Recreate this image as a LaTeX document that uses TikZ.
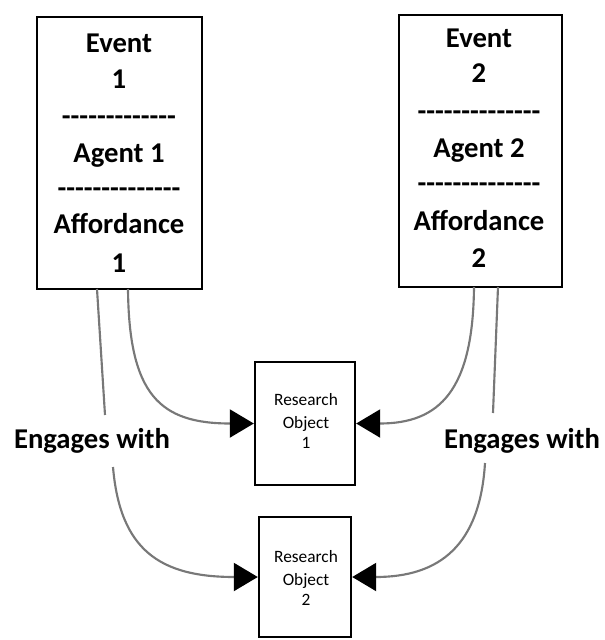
\documentclass[tikz,border=0pt]{standalone}
\usepackage{fontspec}
\setmainfont{Carlito}[Ligatures=TeXOff]
\usetikzlibrary{arrows.meta}
\begin{document}
\begin{tikzpicture}[x=0.75pt,y=-0.75pt,
  bigbox/.style={draw=black,line width=2pt,rectangle,inner sep=0pt},
  smallbox/.style={draw=black,line width=1.8pt,rectangle,inner sep=0pt},
  boxtxt/.style={anchor=base,inner sep=0pt,font=\fontsize{21.5}{24}\selectfont\bfseries},
  rotxt/.style={anchor=base,inner sep=0pt,font=\fontsize{13}{15}\selectfont},
  engtxt/.style={anchor=base,inner sep=0pt,font=\fontsize{21.5}{24}\selectfont\bfseries},
  conn/.style={draw={rgb,255:red,120;green,120;blue,120},line width=1.6pt},
  arr/.style={conn,-{Triangle[length=18pt,width=21pt,black]}}]
\useasboundingbox (0,0) rectangle (605,640);

% Event boxes
\node[bigbox,minimum width=123.75pt,minimum height=204pt] (ev1) at (119.5,153) {};
\node[bigbox,minimum width=122.25pt,minimum height=204pt] (ev2) at (480.5,151) {};

\node[boxtxt] (e1a) at (119,52) {Event};
\node[boxtxt] (e1b) at (119,88) {1};
\node[boxtxt] (e1c) at (119,125) {-------------};
\node[boxtxt] (e1d) at (119,162) {Agent 1};
\node[boxtxt] (e1e) at (119,197) {--------------};
\node[boxtxt] (e1f) at (119,233) {Affordance};
\node[boxtxt] (e1g) at (119,272) {1};

\node[boxtxt] (e2a) at (479,47) {Event};
\node[boxtxt] (e2b) at (479,82) {2};
\node[boxtxt] (e2c) at (479,120) {--------------};
\node[boxtxt] (e2d) at (479,157) {Agent 2};
\node[boxtxt] (e2e) at (479,192) {--------------};
\node[boxtxt] (e2f) at (479,230) {Affordance};
\node[boxtxt] (e2g) at (479,267) {2};

% Research objects
\node[smallbox,minimum width=75pt,minimum height=92.25pt] (ro1) at (305,423.5) {};
\node[smallbox,minimum width=69pt,minimum height=90pt] (ro2) at (305,577) {};

\node[rotxt] (r1a) at (306,405) {Research};
\node[rotxt] (r1b) at (306,428) {Object};
\node[rotxt] (r1c) at (306,448) {1};
\node[rotxt] (r2a) at (306,562) {Research};
\node[rotxt] (r2b) at (306,585) {Object};
\node[rotxt] (r2c) at (306,605) {2};

% Labels
\node[engtxt] (eng1) at (92,448) {Engages with};
\node[engtxt] (eng2) at (522,448) {Engages with};

% Connector end points
\coordinate (a1) at (128,289);
\coordinate (b1) at (97,289);
\coordinate (b1e) at (105,415);
\coordinate (c1) at (113,467);
\coordinate (a2) at (474,287);
\coordinate (b2) at (498,287);
\coordinate (b2e) at (493,413);
\coordinate (c2) at (485,463);

% Connectors
\draw[arr] (a1) .. controls (129,395) and (160,423.5) .. (ro1.west);
\draw[conn] (b1) -- (b1e);
\draw[arr] (c1) .. controls (120,550) and (160,577) .. (ro2.west);

\draw[arr] (a2) .. controls (473,390) and (440,423.5) .. (ro1.east);
\draw[conn] (b2) -- (b2e);
\draw[arr] (c2) .. controls (480,545) and (440,577) .. (ro2.east);
\end{tikzpicture}
\end{document}
